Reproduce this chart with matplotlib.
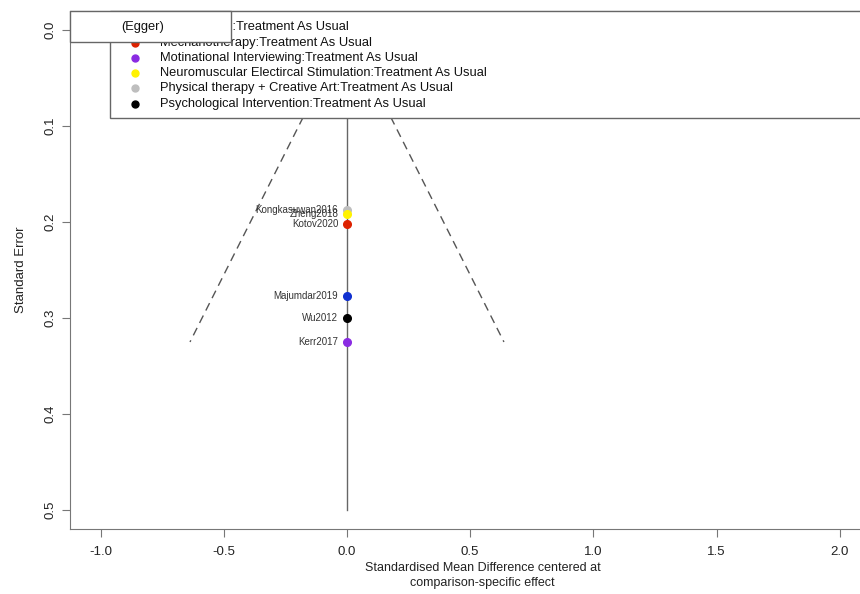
import matplotlib.pyplot as plt
from matplotlib.patches import Rectangle

plt.rcParams['font.family'] = ['Liberation Sans', 'DejaVu Sans']

# studies (all centred at 0 -> comparison-specific effect)
studies = ['Kongkasuwan2016', 'Zheng2018', 'Kotov2020', 'Majumdar2019', 'Wu2012', 'Kerr2017']
centered_effect = [0.0, 0.0, 0.0, 0.0, 0.0, 0.0]
std_error = [0.1875, 0.192, 0.202, 0.277, 0.300, 0.325]
study_colors = ['#BEBEBE', '#FFF200', '#DD2200', '#1030D0', '#000000', '#8A2BE2']

# first label is hidden behind the (Egger) box in the original
comparisons = ['Acupuncture:Treatment As Usual',
               'Mechanotherapy:Treatment As Usual',
               'Motinational Interviewing:Treatment As Usual',
               'Neuromuscular Electircal Stimulation:Treatment As Usual',
               'Physical therapy + Creative Art:Treatment As Usual',
               'Psychological Intervention:Treatment As Usual']
comparison_colors = ['#1030D0', '#DD2200', '#8A2BE2', '#FFF200', '#BEBEBE', '#000000']

x_ticks = [-1.0, -0.5, 0.0, 0.5, 1.0, 1.5, 2.0]
y_ticks = [0.0, 0.1, 0.2, 0.3, 0.4, 0.5]

fig = plt.figure(figsize=(8.6, 5.94), dpi=100)
ax = fig.add_axes([70 / 860, 1 - 529 / 594, 825 / 860, 518 / 594])
ax.set_xlim(-1.124, 2.224)
ax.set_ylim(0.52, -0.02)

# funnel (pseudo 95% limits) and centre line
se_max = max(std_error)
ax.plot([0, -1.96 * se_max], [0, se_max], ls=(0, (6, 4)), color='#555555', lw=1, zorder=1)
ax.plot([0, 1.96 * se_max], [0, se_max], ls=(0, (6, 4)), color='#555555', lw=1, zorder=1)
ax.plot([0, 0], [0, 0.5], color='#666666', lw=1, zorder=1)

for name, x, se, c in zip(studies, centered_effect, std_error, study_colors):
    ax.plot(x, se, 'o', color=c, ms=5.5, zorder=3)
    ax.text(x - 0.035, se, name, ha='right', va='center', fontsize=7, color='#333333', zorder=3)

# axes styling (R base look)
for s in ax.spines.values():
    s.set_color('#777777')
ax.set_xticks(x_ticks)
ax.set_xticklabels([f'{t:.1f}' for t in x_ticks])
ax.set_yticks(y_ticks)
ax.set_yticklabels([f'{t:.1f}' for t in y_ticks], rotation=90, va='center')
ax.tick_params(direction='out', length=6, color='#777777', labelsize=9.5, labelcolor='#222222')
ax.tick_params(axis='x', pad=6)
ax.tick_params(axis='y', pad=4)
ax.set_xlabel('Standardised Mean Difference centered at\ncomparison-specific effect',
              fontsize=9, color='#222222', labelpad=3, linespacing=1.3)
ax.set_ylabel('Standard Error', fontsize=9.5, color='#222222', labelpad=12)

# legend box
def fx(px):
    return (px - 70) / 825

def fy(py):
    return 1 - (py - 11) / 518

ax.add_patch(Rectangle((fx(110), fy(118)), 1.2, fy(11) - fy(118), transform=ax.transAxes,
                       facecolor='white', edgecolor='#666666', lw=1, zorder=5, clip_on=False))
rows = [27, 43, 58, 73, 88, 104]
for lab, c, py in zip(comparisons, comparison_colors, rows):
    ax.plot(fx(135), fy(py), 'o', color=c, ms=5, transform=ax.transAxes, zorder=6, clip_on=False)
    ax.text(fx(160), fy(py), lab, transform=ax.transAxes, fontsize=9.3, va='center',
            color='#111111', zorder=6)

# Egger box
ax.add_patch(Rectangle((0, fy(42)), fx(231), 1 - fy(42), transform=ax.transAxes,
                       facecolor='white', edgecolor='#666666', lw=1, zorder=7, clip_on=False))
ax.text(fx(143), fy(27), '(Egger)', transform=ax.transAxes, ha='center', va='center',
        fontsize=9.3, color='#111111', zorder=8)

fig.savefig('out.png', dpi=100)
